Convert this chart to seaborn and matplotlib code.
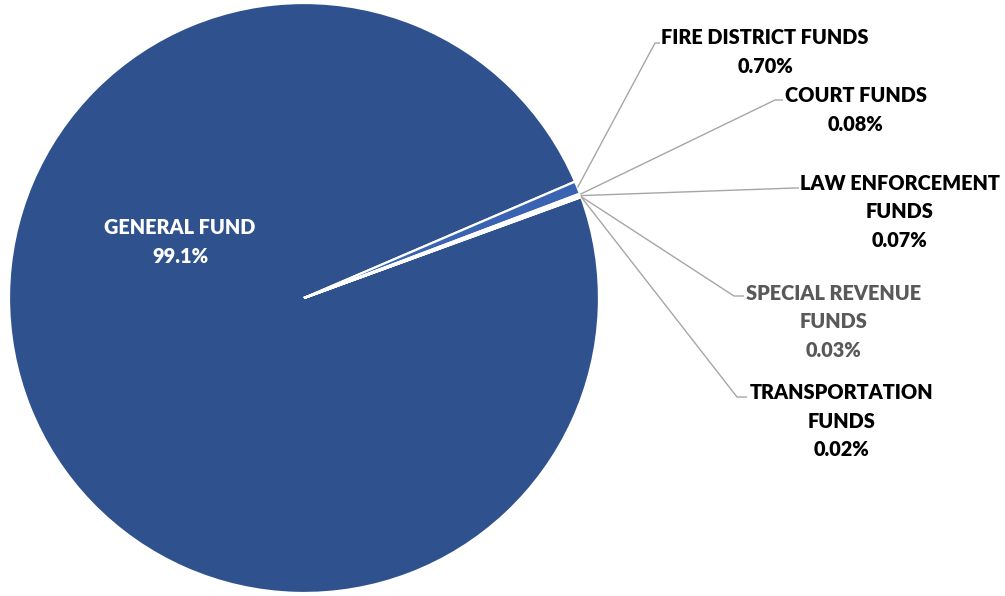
import numpy as np
import matplotlib
matplotlib.use("Agg")
import matplotlib.pyplot as plt
import seaborn as sns

# ---- data ----
categories = ["GENERAL FUND", "FIRE DISTRICT FUNDS", "COURT FUNDS",
              "LAW ENFORCEMENT\nFUNDS", "SPECIAL REVENUE\nFUNDS", "TRANSPORTATION\nFUNDS"]
shares = [99.1, 0.70, 0.08, 0.07, 0.03, 0.02]
pct_labels = ["99.1%", "0.70%", "0.08%", "0.07%", "0.03%", "0.02%"]

# ---- styling / layout ----
colors = ["#2F528F", "#3A64B2", "#4472C4", "#5B84CC", "#7A9AD6", "#99B1E0"]
text_colors = ["white", "black", "black", "black", "#595959", "black"]
# label block centre (pixels, y down)
label_xy = [(180, 242), (765, 52), (856, 110), (900, 212), (834, 322), (842, 421)]
# leader bend point and end point (pixels, y down); None for inside label
leader = [None,
          ((655, 43), (660, 43)),
          ((775, 100), (783, 100)),
          ((795, 188), (799, 188)),
          ((734, 296), (744, 296)),
          ((737, 397), (747, 397))]

sns.set_theme(style="white")
plt.rcParams["font.family"] = ["Lato", "DejaVu Sans"]

W, H = 1005, 596
fig = plt.figure(figsize=(W / 100, H / 100), dpi=100)
ax = fig.add_axes([0, 0, 1, 1])

cx, cy, R = 304, H - 298, 295
wedges, _ = ax.pie(shares, colors=colors, startangle=20, counterclock=False,
                   center=(cx, cy), radius=R,
                   wedgeprops=dict(edgecolor="white", linewidth=1.6))
ax.set_xlim(0, W)
ax.set_ylim(0, H)
ax.set_aspect("equal")
ax.axis("off")

for i, w in enumerate(wedges):
    tx, ty = label_xy[i]
    ax.text(tx, H - ty, f"{categories[i]}\n{pct_labels[i]}", ha="center", va="center",
            multialignment="center", fontsize=14.3, fontweight="heavy",
            color=text_colors[i], linespacing=1.62)
    if leader[i] is not None:
        mid = np.deg2rad((w.theta1 + w.theta2) / 2)
        sx, sy = cx + R * np.cos(mid), cy + R * np.sin(mid)
        (bx, by), (ex, ey) = leader[i]
        ax.plot([sx, bx, ex], [sy, H - by, H - ey], color="#A6A6A6", lw=1.0,
                solid_capstyle="butt", zorder=3)

fig.savefig("out.png", dpi=100)
